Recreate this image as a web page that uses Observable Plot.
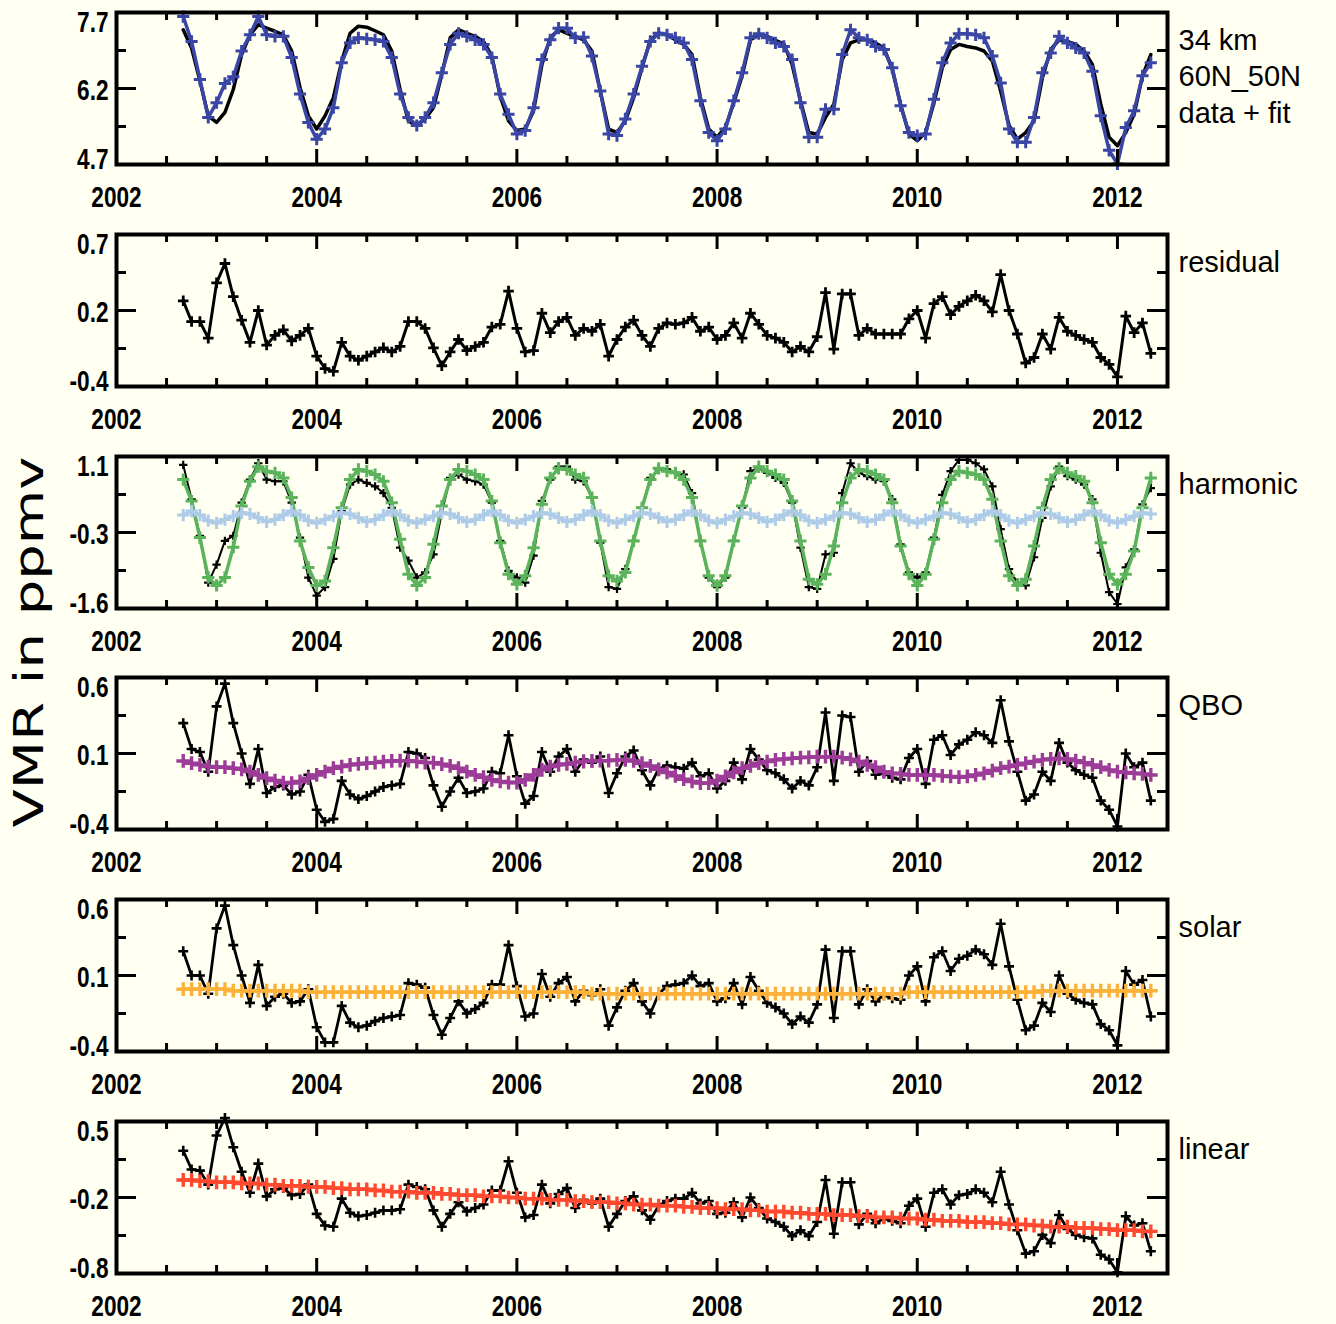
<!DOCTYPE html>
<html><head><meta charset="utf-8">
<script src="https://cdn.jsdelivr.net/npm/d3@7"></script>
<script src="https://cdn.jsdelivr.net/npm/@observablehq/plot@0.6"></script>
<style>
html,body{margin:0;padding:0;background:#fffff2;}
#chart{position:relative;width:1336px;height:1324px;background:#fffff2;overflow:hidden;}
#chart svg{position:absolute;left:0;}
#ylab{position:absolute;left:29px;top:642px;font-family:"DejaVu Sans",sans-serif;font-size:40px;line-height:40px;white-space:nowrap;color:#000;
transform:translate(-50%,-50%) rotate(-90deg) scale(1.4,1);}
</style></head><body><div id="chart"><div id="ylab">VMR in ppmv</div></div>
<script>
// monthly time axis: Sep 2002 .. May 2012
const firstYear = 2002, firstMonth = 9, nMonths = 117;

const xMajor = [2002, 2004, 2006, 2008, 2010, 2012];
const xMinor = [2002.5,2003,2003.5,2004.5,2005,2005.5,2006.5,2007,2007.5,2008.5,2009,2009.5,2010.5,2011,2011.5,2012.5];

// Panel 1: data (blue) + fit (black)
const dataVMR = [7.62,7.13,6.38,5.63,5.92,6.30,6.43,6.94,7.26,7.62,7.26,7.23,7.23,6.81,6.09,5.53,5.20,5.40,5.82,6.71,
7.10,7.20,7.18,7.16,7.13,6.81,6.09,5.63,5.47,5.63,5.92,6.51,7.07,7.29,7.23,7.16,7.07,6.81,6.09,5.69,
5.30,5.37,5.82,6.77,7.16,7.39,7.39,7.20,7.21,6.84,6.15,5.30,5.27,5.60,6.09,6.64,7.13,7.29,7.26,7.20,
7.10,6.77,5.96,5.33,5.17,5.40,5.96,6.51,7.20,7.28,7.20,7.10,7.03,6.77,5.92,5.24,5.24,5.79,5.79,6.87,
7.36,7.20,7.16,7.03,6.97,6.61,5.86,5.33,5.27,5.30,5.99,6.71,7.10,7.28,7.28,7.26,7.20,6.84,6.31,5.40,
5.14,5.14,5.63,6.51,6.90,7.23,7.10,7.00,6.90,6.54,5.66,4.98,4.71,5.43,5.76,6.45,6.71];
const fitVMR = [7.36,7.00,6.35,5.66,5.53,5.73,6.18,6.87,7.26,7.46,7.39,7.33,7.26,6.94,6.22,5.66,5.40,5.66,6.02,6.74,
7.29,7.43,7.41,7.34,7.26,6.94,6.18,5.56,5.47,5.60,5.82,6.48,7.20,7.36,7.29,7.23,7.13,6.84,6.05,5.56,
5.37,5.40,5.76,6.67,7.20,7.36,7.29,7.23,7.16,6.94,6.15,5.40,5.33,5.56,6.02,6.61,7.16,7.29,7.26,7.16,
7.07,6.87,6.02,5.40,5.24,5.43,5.92,6.45,7.16,7.26,7.23,7.15,7.08,6.67,5.96,5.33,5.30,5.63,5.89,6.77,
7.10,7.16,7.16,7.10,7.00,6.58,5.89,5.30,5.17,5.33,5.92,6.61,6.97,7.07,7.03,7.00,6.94,6.74,6.15,5.47,
5.20,5.33,5.56,6.41,6.97,7.16,7.13,7.07,6.94,6.67,5.89,5.24,5.07,5.33,5.69,6.45,6.87];

// Panel 2: residual
const residual = [0.22,0.07,0.07,-0.05,0.35,0.49,0.25,0.08,-0.08,0.15,-0.10,-0.03,0.01,-0.07,-0.03,0.02,-0.18,-0.27,-0.29,-0.08,
-0.18,-0.21,-0.18,-0.15,-0.12,-0.15,-0.11,0.07,0.07,0.02,-0.12,-0.25,-0.15,-0.06,-0.14,-0.11,-0.08,0.03,0.05,0.29,
0.02,-0.15,-0.14,0.13,-0.01,0.07,0.10,-0.03,0.02,0.00,0.05,-0.18,-0.06,0.03,0.08,-0.03,-0.11,0.02,0.06,0.05,
0.06,0.10,0.00,0.03,-0.06,-0.03,0.06,-0.05,0.13,0.05,-0.03,-0.05,-0.08,-0.15,-0.11,-0.15,-0.04,0.28,-0.13,0.27,
0.27,-0.03,0.02,-0.02,-0.02,-0.02,-0.02,0.09,0.15,-0.05,0.20,0.25,0.12,0.18,0.22,0.26,0.22,0.14,0.41,0.15,
-0.02,-0.23,-0.19,-0.02,-0.13,0.10,0.00,-0.03,-0.06,-0.08,-0.19,-0.24,-0.33,0.11,-0.01,0.06,-0.16];

// Panel 3: harmonic
const harmonicData = [0.95,0.34,-0.31,-1.14,-0.82,-0.40,-0.31,0.28,0.69,0.98,0.69,0.66,0.66,0.28,-0.34,-1.05,-1.37,-1.22,-0.72,0.13,
0.60,0.69,0.63,0.57,0.45,0.19,-0.52,-0.75,-1.05,-0.96,-0.64,0.10,0.72,0.78,0.69,0.66,0.60,0.28,-0.40,-0.93,
-1.05,-1.14,-0.66,0.31,0.69,0.92,0.92,0.69,0.66,0.37,-0.43,-1.22,-1.25,-0.90,-0.40,0.19,0.72,0.87,0.87,0.81,
0.78,0.45,-0.40,-1.05,-1.22,-1.05,-0.40,0.19,0.84,0.89,0.81,0.72,0.63,0.28,-0.52,-1.22,-1.25,-0.64,-0.61,0.45,
0.98,0.81,0.75,0.69,0.66,0.34,-0.46,-0.96,-1.05,-0.96,-0.34,0.42,0.84,1.04,1.04,0.98,0.87,0.57,-0.19,-0.90,
-1.14,-1.19,-0.69,0.01,0.57,0.92,0.75,0.69,0.60,0.34,-0.61,-1.31,-1.52,-0.87,-0.55,0.25,0.54];
const annual = [0.69,0.31,-0.34,-1.05,-1.19,-1.05,-0.51,0.22,0.66,0.92,0.84,0.81,0.72,0.37,-0.40,-0.87,-1.19,-1.11,-0.52,0.19,
0.69,0.87,0.84,0.78,0.66,0.28,-0.37,-0.99,-1.19,-1.05,-0.46,0.22,0.69,0.87,0.84,0.78,0.69,0.31,-0.43,-0.99,
-1.17,-1.02,-0.52,0.25,0.72,0.89,0.87,0.78,0.72,0.37,-0.40,-1.02,-1.11,-0.96,-0.40,0.19,0.69,0.89,0.84,0.81,
0.69,0.37,-0.40,-1.02,-1.19,-1.02,-0.40,0.22,0.72,0.92,0.84,0.78,0.69,0.31,-0.40,-1.08,-1.17,-0.99,-0.49,0.28,
0.72,0.87,0.84,0.78,0.69,0.28,-0.49,-0.99,-1.19,-0.99,-0.37,0.28,0.69,0.84,0.81,0.78,0.69,0.34,-0.40,-1.02,
-1.19,-1.08,-0.49,0.19,0.69,0.89,0.81,0.75,0.66,0.28,-0.43,-0.99,-1.17,-0.99,-0.58,0.19,0.72];
const semiannual = [0.06,0.13,0.06,-0.04,-0.08,-0.02,0.04,0.10,0.08,0.01,-0.06,-0.02,0.06,0.13,0.06,-0.04,-0.08,-0.02,0.04,0.10,
0.08,0.01,-0.06,-0.02,0.06,0.13,0.06,-0.04,-0.08,-0.02,0.04,0.10,0.08,0.01,-0.06,-0.02,0.06,0.13,0.06,-0.04,
-0.08,-0.02,0.04,0.10,0.08,0.01,-0.06,-0.02,0.06,0.13,0.06,-0.04,-0.08,-0.02,0.04,0.10,0.08,0.01,-0.06,-0.02,
0.06,0.13,0.06,-0.04,-0.08,-0.02,0.04,0.10,0.08,0.01,-0.06,-0.02,0.06,0.13,0.06,-0.04,-0.08,-0.02,0.04,0.10,
0.08,0.01,-0.06,-0.02,0.06,0.13,0.06,-0.04,-0.08,-0.02,0.04,0.10,0.08,0.01,-0.06,-0.02,0.06,0.13,0.06,-0.04,
-0.08,-0.02,0.04,0.10,0.08,0.01,-0.06,-0.02,0.06,0.13,0.06,-0.04,-0.08,-0.02,0.04,0.10,0.08];

// Panel 4: QBO
const qboData = [0.30,0.13,0.11,-0.02,0.41,0.56,0.30,0.10,-0.10,0.13,-0.16,-0.12,-0.11,-0.17,-0.15,-0.04,-0.27,-0.35,-0.33,-0.08,
-0.17,-0.20,-0.18,-0.15,-0.12,-0.11,-0.10,0.11,0.10,0.07,-0.11,-0.25,-0.15,-0.06,-0.16,-0.15,-0.13,-0.02,-0.03,0.22,
-0.05,-0.23,-0.18,0.11,-0.02,0.08,0.13,-0.02,0.06,0.04,0.08,-0.16,-0.03,0.08,0.12,-0.01,-0.11,0.00,0.02,0.01,
0.00,0.04,-0.05,-0.03,-0.13,-0.08,0.04,-0.07,0.13,0.06,-0.01,-0.03,-0.07,-0.13,-0.08,-0.11,0.01,0.37,-0.08,0.35,
0.34,-0.02,0.05,-0.04,-0.03,-0.06,-0.07,0.07,0.13,-0.10,0.19,0.22,0.09,0.16,0.19,0.24,0.22,0.17,0.45,0.18,
-0.02,-0.21,-0.17,-0.02,-0.08,0.17,0.04,-0.01,-0.04,-0.06,-0.21,-0.27,-0.38,0.10,0.01,0.04,-0.21];
const qbo = [0.051,0.036,0.025,0.014,0.010,0.010,0.003,-0.004,-0.019,-0.041,-0.062,-0.078,-0.091,-0.095,-0.084,-0.062,-0.041,-0.019,0.003,0.014,
0.025,0.031,0.036,0.040,0.047,0.051,0.053,0.053,0.047,0.040,0.040,0.030,0.018,0.003,-0.019,-0.041,-0.056,-0.073,-0.084,-0.091,
-0.091,-0.073,-0.041,-0.008,0.014,0.025,0.031,0.040,0.047,0.051,0.053,0.053,0.058,0.058,0.051,0.036,0.018,-0.004,-0.025,-0.047,
-0.069,-0.084,-0.095,-0.095,-0.078,-0.051,-0.025,0.003,0.018,0.036,0.047,0.058,0.064,0.068,0.073,0.075,0.079,0.079,0.079,0.073,
0.062,0.047,0.025,0.010,-0.019,-0.030,-0.034,-0.041,-0.041,-0.041,-0.041,-0.047,-0.051,-0.056,-0.051,-0.041,-0.030,-0.012,0.003,0.014,
0.025,0.036,0.047,0.058,0.064,0.068,0.064,0.053,0.040,0.025,0.010,-0.008,-0.019,-0.025,-0.030,-0.034,-0.041];

// Panel 5: solar
const solarData = [0.26,0.10,0.10,-0.02,0.41,0.56,0.30,0.10,-0.08,0.17,-0.10,-0.04,-0.02,-0.08,-0.07,0.01,-0.24,-0.34,-0.34,-0.10,
-0.21,-0.24,-0.23,-0.20,-0.18,-0.17,-0.16,0.05,0.04,0.02,-0.16,-0.29,-0.18,-0.07,-0.15,-0.12,-0.08,0.04,0.04,0.30,
0.03,-0.17,-0.15,0.11,-0.04,0.05,0.09,-0.07,0.00,-0.03,0.01,-0.23,-0.11,0.00,0.05,-0.07,-0.15,-0.02,0.03,0.04,
0.05,0.10,0.03,0.05,-0.07,-0.05,0.05,-0.09,0.09,0.00,-0.08,-0.11,-0.15,-0.22,-0.17,-0.21,-0.09,0.27,-0.18,0.26,
0.26,-0.09,0.01,-0.07,-0.03,-0.05,-0.06,0.10,0.16,-0.07,0.22,0.26,0.13,0.21,0.23,0.27,0.24,0.17,0.44,0.16,
-0.06,-0.26,-0.23,-0.08,-0.14,0.10,-0.02,-0.06,-0.08,-0.09,-0.22,-0.26,-0.36,0.13,0.04,0.07,-0.17];
const solar = [0.01,0.01,0.01,0.01,0.01,0.01,0.00,0.00,0.00,0.00,0.00,0.00,0.00,0.00,0.00,-0.01,-0.01,-0.01,-0.01,-0.01,
-0.01,-0.01,-0.01,-0.01,-0.01,-0.01,-0.01,-0.01,-0.01,-0.01,-0.01,-0.01,-0.01,-0.01,-0.01,-0.01,-0.01,-0.01,-0.01,-0.01,
-0.01,-0.01,-0.01,-0.01,-0.01,-0.01,-0.01,-0.01,-0.01,-0.02,-0.02,-0.02,-0.02,-0.02,-0.02,-0.02,-0.02,-0.02,-0.02,-0.02,
-0.02,-0.02,-0.02,-0.02,-0.02,-0.02,-0.02,-0.02,-0.02,-0.02,-0.02,-0.02,-0.02,-0.02,-0.02,-0.02,-0.02,-0.02,-0.02,-0.02,
-0.02,-0.02,-0.02,-0.02,-0.02,-0.02,-0.02,-0.01,-0.01,-0.01,-0.01,-0.01,-0.01,-0.01,-0.01,-0.01,-0.01,-0.01,-0.01,-0.01,
-0.01,-0.01,-0.01,0.00,0.00,0.00,0.00,0.00,0.00,0.00,0.00,0.00,0.00,0.00,0.00,0.00,0.00];

// Panel 6: linear
const linearData = [0.25,0.09,0.08,-0.04,0.38,0.53,0.28,0.07,-0.11,0.14,-0.14,-0.08,-0.07,-0.13,-0.12,-0.04,-0.29,-0.39,-0.40,-0.16,
-0.28,-0.31,-0.30,-0.28,-0.26,-0.26,-0.25,-0.04,-0.06,-0.08,-0.26,-0.40,-0.29,-0.19,-0.27,-0.24,-0.21,-0.09,-0.09,0.16,
-0.11,-0.32,-0.30,-0.04,-0.20,-0.12,-0.07,-0.24,-0.17,-0.20,-0.16,-0.40,-0.29,-0.18,-0.14,-0.26,-0.34,-0.22,-0.18,-0.16,
-0.16,-0.11,-0.20,-0.18,-0.29,-0.28,-0.19,-0.32,-0.15,-0.24,-0.33,-0.36,-0.40,-0.48,-0.43,-0.48,-0.36,0.00,-0.46,-0.02,
-0.02,-0.38,-0.29,-0.37,-0.33,-0.35,-0.37,-0.22,-0.16,-0.40,-0.11,-0.08,-0.21,-0.13,-0.12,-0.08,-0.11,-0.19,0.07,-0.21,
-0.43,-0.63,-0.61,-0.47,-0.54,-0.30,-0.42,-0.47,-0.49,-0.50,-0.64,-0.68,-0.79,-0.31,-0.39,-0.37,-0.61];
const linear = [0.00,0.00,-0.01,-0.01,-0.02,-0.02,-0.02,-0.03,-0.03,-0.03,-0.04,-0.04,-0.05,-0.05,-0.05,-0.06,-0.06,-0.06,-0.07,-0.07,
-0.08,-0.08,-0.08,-0.09,-0.09,-0.10,-0.10,-0.10,-0.11,-0.11,-0.11,-0.12,-0.12,-0.13,-0.13,-0.13,-0.14,-0.14,-0.14,-0.15,
-0.15,-0.16,-0.16,-0.16,-0.17,-0.17,-0.17,-0.18,-0.18,-0.19,-0.19,-0.19,-0.20,-0.20,-0.21,-0.21,-0.21,-0.22,-0.22,-0.22,
-0.23,-0.23,-0.24,-0.24,-0.24,-0.25,-0.25,-0.25,-0.26,-0.26,-0.27,-0.27,-0.27,-0.28,-0.28,-0.29,-0.29,-0.29,-0.30,-0.30,
-0.30,-0.31,-0.31,-0.32,-0.32,-0.32,-0.33,-0.33,-0.33,-0.34,-0.34,-0.35,-0.35,-0.35,-0.36,-0.36,-0.36,-0.37,-0.37,-0.38,
-0.38,-0.38,-0.39,-0.39,-0.40,-0.40,-0.40,-0.41,-0.41,-0.41,-0.42,-0.42,-0.43,-0.43,-0.43,-0.44,-0.44];

// axis domains and labels
const yDomains = [[4.7,7.7],[-0.4,0.7],[-1.6,1.1],[-0.4,0.6],[-0.4,0.6],[-0.8,0.5]];
const yLabels = [["4.7","6.2","7.7"],["-0.4","0.2","0.7"],["-1.6","-0.3","1.1"],["-0.4","0.1","0.6"],["-0.4","0.1","0.6"],["-0.8","-0.2","0.5"]];
const panelTitles = ["34 km\n60N_50N\ndata + fit","residual","harmonic","QBO","solar","linear"];

const BLACK="#000", BLUE="#3a46a6", GREEN="#5bb35b", LBLUE="#aecbe8", PURPLE="#9c3c98", ORANGE="#fbb13a", RED="#ff4a30";

const panels = [
  {series:[{v:fitVMR,c:BLACK,w:3.5,m:false},{v:dataVMR,c:BLUE,w:3.5,m:true,r:4,mw:3}]},
  {series:[{v:residual,c:BLACK,w:3,m:true,r:3.5,mw:2.8}]},
  {series:[{v:harmonicData,c:BLACK,w:2,m:true,r:2.8,mw:2.2},{v:annual,c:GREEN,w:3.5,m:true,r:4,mw:3},{v:semiannual,c:LBLUE,w:3.5,m:true,r:4,mw:3}]},
  {series:[{v:qboData,c:BLACK,w:2.8,m:true,r:3.3,mw:2.6},{v:qbo,c:PURPLE,w:3.5,m:true,r:4.5,mw:3.4}]},
  {series:[{v:solarData,c:BLACK,w:2.8,m:true,r:3.3,mw:2.6},{v:solar,c:ORANGE,w:3.5,m:true,r:4.5,mw:3.4}]},
  {series:[{v:linearData,c:BLACK,w:2.8,m:true,r:3.3,mw:2.6},{v:linear,c:RED,w:3.5,m:true,r:4.5,mw:3.4}]}
];

const tickFont = '"Liberation Sans",Arial,sans-serif';
const titleFont = '"Liberation Sans",Arial,sans-serif';
const W = 1336, H = 222, mL = 116, mR = 169, mT = 12, mB = 58;
const frameH = H - mT - mB, frameW = W - mL - mR;
const x0 = 2002, x1 = 2012.5;

const chart = document.getElementById("chart");
panels.forEach((p, k) => {
  const [y0, y1] = yDomains[k];
  const ypx = (y1 - y0) / frameH, xpx = (x1 - x0) / frameW;
  const yTicks = d3.range(5).map(j => y0 + j * (y1 - y0) / 4);
  const marks = [];
  p.series.forEach(s => {
    const rows = s.v.map((v, i) => ({t: firstYear + (firstMonth - 1 + i) / 12, v}));
    marks.push(Plot.line(rows, {x: "t", y: "v", stroke: s.c, strokeWidth: s.w, strokeLinejoin: "round"}));
    if (s.m) marks.push(Plot.dot(rows, {x: "t", y: "v", symbol: "plus", r: s.r, stroke: s.c, strokeWidth: s.mw}));
  });
  // x ticks (inward, bottom and top)
  marks.push(Plot.ruleX(xMinor, {x: d => d, y1: () => y0, y2: () => y0 + 8 * ypx, stroke: "black", strokeWidth: 3}));
  marks.push(Plot.ruleX(xMinor, {x: d => d, y1: () => y1, y2: () => y1 - 8 * ypx, stroke: "black", strokeWidth: 3}));
  marks.push(Plot.ruleX(xMajor, {x: d => d, y1: () => y0, y2: () => y0 + 15 * ypx, stroke: "black", strokeWidth: 3}));
  marks.push(Plot.ruleX(xMajor, {x: d => d, y1: () => y1, y2: () => y1 - 15 * ypx, stroke: "black", strokeWidth: 3}));
  // y ticks (inward, left and right)
  const minorY = [yTicks[1], yTicks[3]], majorY = [yTicks[2]];
  marks.push(Plot.ruleY(minorY, {y: d => d, x1: () => x0, x2: () => x0 + 10 * xpx, stroke: "black", strokeWidth: 3}));
  marks.push(Plot.ruleY(minorY, {y: d => d, x1: () => x1, x2: () => x1 - 10 * xpx, stroke: "black", strokeWidth: 3}));
  marks.push(Plot.ruleY(majorY, {y: d => d, x1: () => x0, x2: () => x0 + 20 * xpx, stroke: "black", strokeWidth: 3}));
  marks.push(Plot.ruleY(majorY, {y: d => d, x1: () => x1, x2: () => x1 - 20 * xpx, stroke: "black", strokeWidth: 3}));
  marks.push(Plot.frame({stroke: "black", strokeWidth: 4}));
  // tick labels
  marks.push(Plot.text(xMajor, {x: d => d, text: d => String(d), frameAnchor: "bottom", dy: 42, fontSize: 29, fontWeight: "bold", fontFamily: tickFont, fill: "black"}));
  const yl = yLabels[k];
  const ydy = [-5, 2, 10];
  [0, 2, 4].forEach((j, n) => {
    marks.push(Plot.text([yTicks[j]], {y: d => d, text: () => yl[n], frameAnchor: "left", textAnchor: "end", dx: -8, dy: ydy[n], fontSize: 29, fontWeight: "bold", fontFamily: tickFont, fill: "black"}));
  });
  marks.push(Plot.text([panelTitles[k]], {text: d => d, frameAnchor: "top-right", textAnchor: "start", lineAnchor: "top", dx: 11, dy: 11, fontSize: 29, lineHeight: 1.27, fontFamily: titleFont, fill: "black"}));
  const svg = Plot.plot({
    width: W, height: H, marginLeft: mL, marginRight: mR, marginTop: mT, marginBottom: mB,
    x: {domain: [x0, x1], axis: null},
    y: {domain: [y0, y1], axis: null},
    style: {background: "transparent", overflow: "visible"},
    marks
  });
  // condense the bold tick labels horizontally, as in the original figure
  svg.querySelectorAll('g[font-weight="bold"] text').forEach(t => {
    t.setAttribute("transform", (t.getAttribute("transform") || "") + " scale(0.78,1)");
  });
  svg.style.top = Math.round(221.8 * k) + "px";
  chart.appendChild(svg);
});
</script></body></html>
